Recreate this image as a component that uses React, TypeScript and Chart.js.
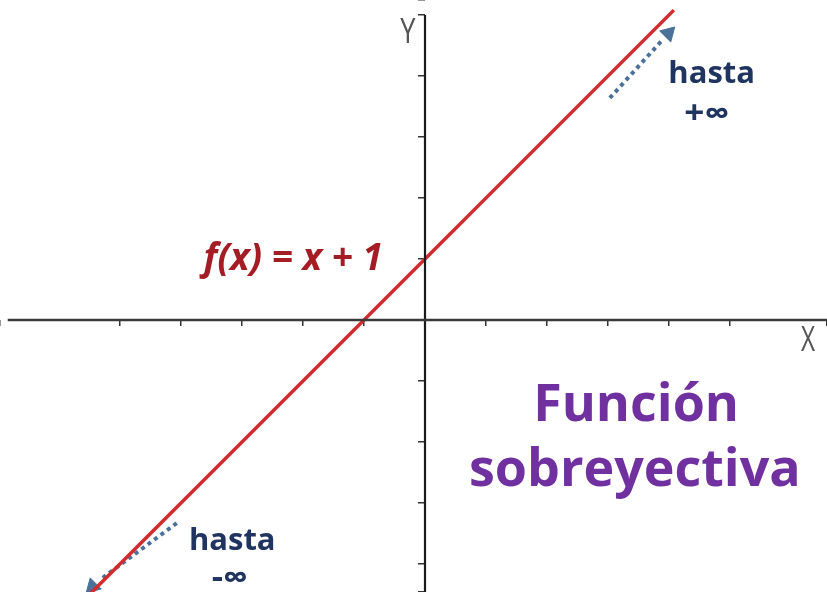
import React, { useEffect, useRef } from "react";
import { Chart, registerables } from "chart.js";

Chart.register(...registerables);

// Visible window (data units)
const xRange = [-6.967, 6.59];
const yRange = [-4.459, 5.246];

// f(x) = x + 1
const lineX = [-5.6, 4.08];
const lineY = [-4.6, 5.08];

// Axis lines
const xAxisX = [-6.84, 6.59];
const xAxisY = [0, 0];
const yAxisX = [0, 0];
const yAxisY = [5, -4.46];

// Dotted arrows (shaft start/end, head centre)
const arrowUpX = [3.03, 3.9];
const arrowUpY = [3.64, 4.6];
const arrowUpHead = [3.99, 4.7];
const arrowDownX = [-4.07, -5.33];
const arrowDownY = [-3.33, -4.26];
const arrowDownHead = [-5.45, -4.37];

// Annotations
const labelTexts = ["f(x) = x + 1", "hasta", "+∞", "hasta", "-∞", "Función", "sobreyectiva", "X", "Y"];
const labelX = [-2.16, 4.7, 4.62, -3.16, -3.2, 3.46, 3.44, 6.28, -0.28];
const labelY = [0.82, 3.885, 3.36, -3.77, -4.24, -1.66, -2.72, -0.344, 4.7];

const pts = (xs: number[], ys: number[]) => xs.map((x, i) => ({ x, y: ys[i] }));

const labelStyles = [
  { font: "italic bold 37px 'Open Sans'", color: "#a51d24", base: "alphabetic", sx: 1 },
  { font: "bold 31px 'Open Sans'", color: "#1f3560", base: "alphabetic", sx: 1 },
  { font: "bold 32px 'Open Sans'", color: "#1f3560", base: "middle", sx: 1.1 },
  { font: "bold 31px 'Open Sans'", color: "#1f3560", base: "alphabetic", sx: 1 },
  { font: "bold 32px 'Open Sans'", color: "#1f3560", base: "middle", sx: 1.1 },
  { font: "bold 52px 'Open Sans'", color: "#7030a0", base: "alphabetic", sx: 1 },
  { font: "bold 52px 'Open Sans'", color: "#7030a0", base: "alphabetic", sx: 1 },
  { font: "34px 'Open Sans'", color: "#555555", base: "middle", sx: 0.72 },
  { font: "34px 'Open Sans'", color: "#555555", base: "middle", sx: 0.8 },
];

const labelPlugin = {
  id: "labels",
  afterDatasetsDraw(chart: any) {
    const { ctx, scales } = chart;
    labelTexts.forEach((t, i) => {
      const st = labelStyles[i];
      ctx.save();
      ctx.textAlign = "center";
      ctx.textBaseline = st.base;
      ctx.font = st.font;
      ctx.fillStyle = st.color;
      ctx.translate(scales.x.getPixelForValue(labelX[i]), scales.y.getPixelForValue(labelY[i]));
      ctx.scale(st.sx, 1);
      ctx.fillText(t, 0, 0);
      ctx.restore();
    });
  },
};

const bgPlugin = {
  id: "bg",
  beforeDraw(chart: any) {
    const { ctx, width, height } = chart;
    ctx.save();
    ctx.fillStyle = "#ffffff";
    ctx.fillRect(0, 0, width, height);
    ctx.restore();
  },
};

export default function App() {
  const ref = useRef<HTMLCanvasElement | null>(null);
  useEffect(() => {
    if (!ref.current) return;
    const arrowColor = "#4a7199";
    const chart = new Chart(ref.current, {
      type: "scatter",
      data: {
        datasets: [
          { data: pts(xAxisX, xAxisY), showLine: true, borderColor: "#3a3a3a", borderWidth: 2.5, pointRadius: 0 },
          { data: pts(yAxisX, yAxisY), showLine: true, borderColor: "#1a1a1a", borderWidth: 2.2, pointRadius: 0 },
          { data: pts(lineX, lineY), showLine: true, borderColor: "#d42a2c", borderWidth: 3.5, pointRadius: 0 },
          {
            data: pts(arrowUpX, arrowUpY), showLine: true, borderColor: arrowColor, borderWidth: 4,
            borderDash: [4, 4], pointRadius: 0,
          },
          {
            data: [{ x: arrowUpHead[0], y: arrowUpHead[1] }], showLine: false, pointStyle: "triangle",
            rotation: 45, pointRadius: 9, backgroundColor: arrowColor, borderColor: arrowColor, borderWidth: 1,
          },
          {
            data: pts(arrowDownX, arrowDownY), showLine: true, borderColor: arrowColor, borderWidth: 4,
            borderDash: [4, 4], pointRadius: 0,
          },
          {
            data: [{ x: arrowDownHead[0], y: arrowDownHead[1] }], showLine: false, pointStyle: "triangle",
            rotation: 225, pointRadius: 9, backgroundColor: arrowColor, borderColor: arrowColor, borderWidth: 1,
          },
        ],
      },
      options: {
        responsive: false,
        animation: false,
        layout: { padding: 0, autoPadding: false },
        plugins: { legend: { display: false }, tooltip: { enabled: false } },
        scales: {
          x: {
            type: "linear",
            min: xRange[0],
            max: xRange[1],
            position: { y: 0 } as any,
            border: { display: false },
            grid: { drawOnChartArea: false, drawTicks: true, tickLength: 6, color: "#333333", lineWidth: 1.5 },
            ticks: { display: false, stepSize: 1 },
          },
          y: {
            type: "linear",
            min: yRange[0],
            max: yRange[1],
            position: { x: 0 } as any,
            border: { display: false },
            grid: { drawOnChartArea: false, drawTicks: true, tickLength: 7, color: "#333333", lineWidth: 1.5 },
            ticks: { display: false, stepSize: 1 },
          },
        },
      },
      plugins: [bgPlugin, labelPlugin],
    });
    return () => chart.destroy();
  }, []);
  return (
    <div style={{ position: "fixed", left: 0, top: 0, width: 827, height: 592 }}>
      <canvas ref={ref} width={827} height={592} style={{ display: "block" }} />
    </div>
  );
}
